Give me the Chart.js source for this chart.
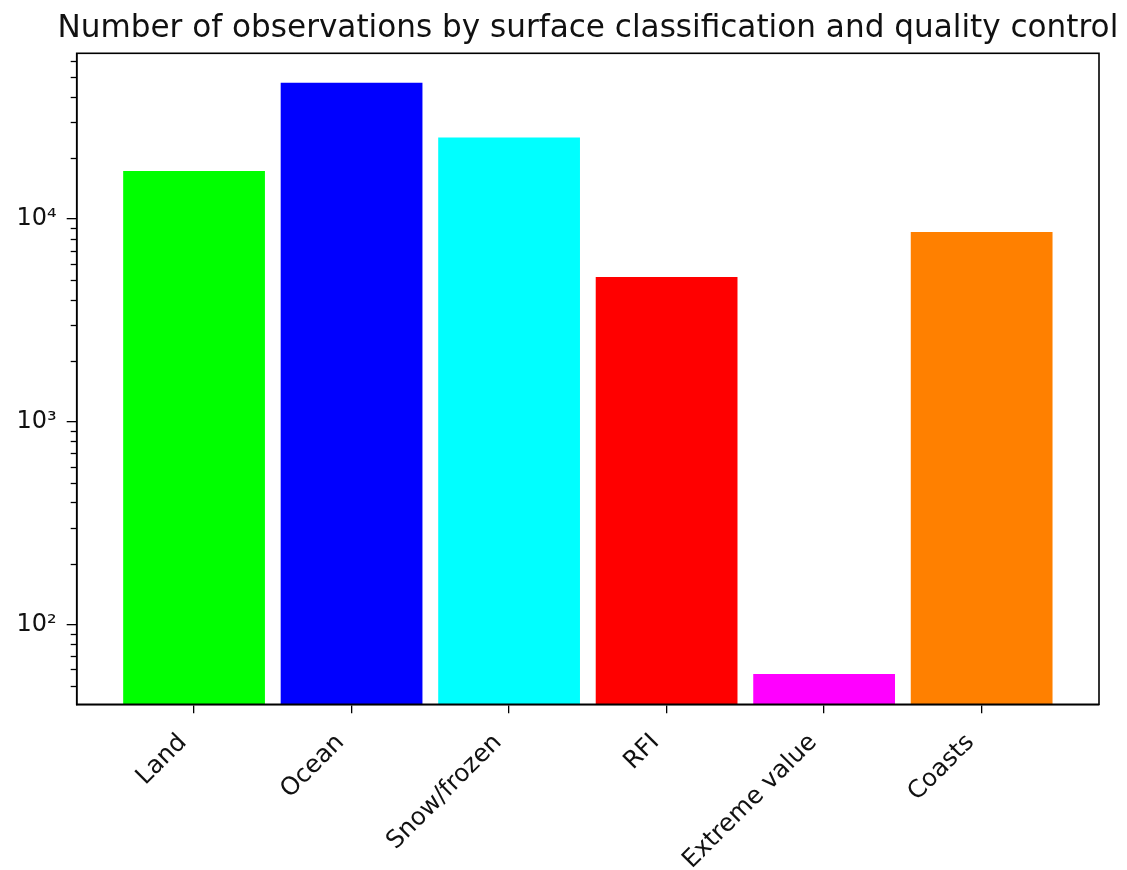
<!DOCTYPE html>
<html lang="en">
  <head>
    <meta charset="utf-8" />
    <title>Observations by surface classification</title>
    <style>
      body {
        margin: 0;
        background-color: white;
      }
      #wrap {
        width: 1127px;
        height: 870px;
      }
    </style>
  </head>
  <body>
    <div id="wrap"><canvas id="chart"></canvas></div>
    <script src="https://cdn.jsdelivr.net/npm/chart.js"></script>
    <script>
      const title = "Number of observations by surface classification and quality control";
      const categories = ["Land", "Ocean", "Snow/frozen", "RFI", "Extreme value", "Coasts"];
      const counts = [17260, 47070, 25300, 5190, 57, 8650];
      const colors = ["#00ff00", "#0000ff", "#00ffff", "#ff0000", "#ff00ff", "#ff8000"];
      const yMajor = [100, 1000, 10000];
      const sup = { 2: "\u00b2", 3: "\u00b3", 4: "\u2074" };

      const font = "'DejaVu Sans', sans-serif";

      // box round the axes, minor log ticks, and the title centred on the axes
      // (chart.js squeezes a title wider than the chart area, so draw it here)
      const frame = {
        id: "frame",
        afterDraw(chart) {
          const { ctx, chartArea: a } = chart;
          const y = chart.scales.y;
          ctx.save();
          ctx.strokeStyle = "#000";
          ctx.lineWidth = 1.3;
          for (let e = 1; e <= 4; e++) {
            for (let k = 2; k <= 9; k++) {
              const v = k * Math.pow(10, e);
              if (v < y.min || v > y.max) continue;
              const py = Math.round(y.getPixelForValue(v)) + 0.5;
              ctx.beginPath();
              ctx.moveTo(a.left - 6, py);
              ctx.lineTo(a.left, py);
              ctx.stroke();
            }
          }
          ctx.lineWidth = 1.6;
          ctx.strokeRect(a.left, a.top, a.right - a.left, a.bottom - a.top);

          ctx.fillStyle = "#111";
          ctx.font = "31.1px " + font;
          ctx.textAlign = "center";
          ctx.textBaseline = "alphabetic";
          ctx.fillText(title, (a.left + a.right) / 2, a.top - 16.6);
          ctx.restore();
        },
      };

      new Chart(document.getElementById("chart"), {
        type: "bar",
        data: {
          datasets: [
            {
              data: counts.map((v, i) => ({ x: i, y: v })),
              backgroundColor: colors,
              barPercentage: 0.9,
              categoryPercentage: 1,
            },
          ],
        },
        options: {
          responsive: true,
          maintainAspectRatio: false,
          animation: false,
          layout: { padding: { left: 0, right: 28, top: 53.3, bottom: 0 } },
          plugins: {
            legend: { display: false },
            tooltip: { enabled: false },
            title: { display: false },
          },
          scales: {
            x: {
              type: "linear",
              min: -0.745,
              max: 5.745,
              offset: false,
              grid: {
                offset: false,
                drawOnChartArea: false,
                tickLength: 9,
                color: "#000",
                lineWidth: 1.3,
              },
              border: { color: "#000", width: 1.6 },
              afterBuildTicks: (s) => {
                s.ticks = categories.map((c, i) => ({ value: i }));
              },
              afterFit: (s) => {
                s.height = 165.7;
              },
              ticks: {
                autoSkip: false,
                minRotation: 45,
                maxRotation: 45,
                padding: 4,
                color: "#111",
                font: { family: font, size: 24.5 },
                // two trailing spaces pull the rotated label back like ha='right'
                callback: (v) => categories[v] + "  ",
              },
            },
            y: {
              type: "logarithmic",
              min: 40.4,
              max: 65800,
              grid: {
                drawOnChartArea: false,
                tickLength: 10,
                color: "#000",
                lineWidth: 1.3,
              },
              border: { color: "#000", width: 1.6 },
              afterBuildTicks: (s) => {
                s.ticks = yMajor.map((v) => ({ value: v, major: true }));
              },
              afterFit: (s) => {
                s.width = 76.7;
              },
              ticks: {
                padding: 10,
                color: "#111",
                font: { family: font, size: 24 },
                callback: (v) => "10" + sup[Math.round(Math.log10(v))],
              },
            },
          },
        },
        plugins: [frame],
      });
    </script>
  </body>
</html>
